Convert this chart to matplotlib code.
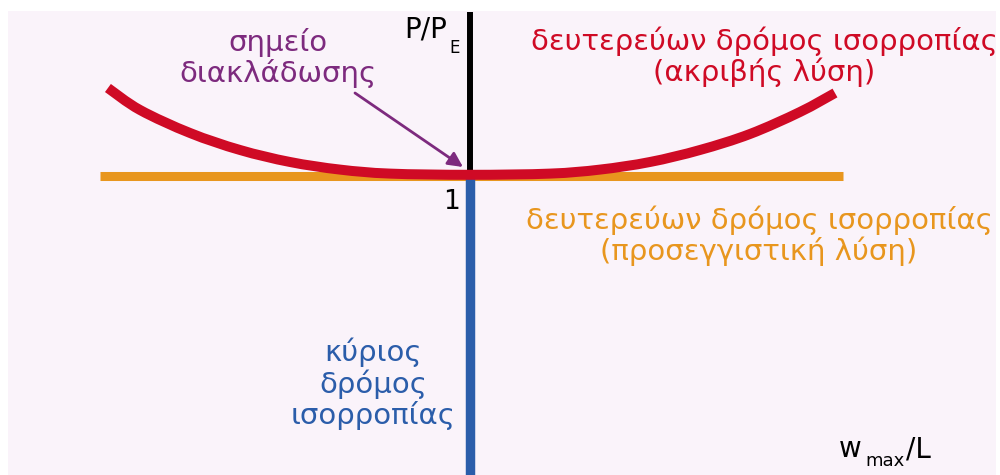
import matplotlib
matplotlib.use("Agg")
import matplotlib.pyplot as plt
import numpy as np
from matplotlib.patches import Rectangle, PathPatch
from matplotlib.path import Path

# ---- data (w_max/L, P/P_E) ----
w_exact = [-0.992, -0.904, -0.767, -0.630, -0.493, -0.356, -0.219, 0.0,
           0.219, 0.356, 0.493, 0.630, 0.767, 0.904, 1.000]
p_exact = [1.44, 1.33, 1.215, 1.13, 1.07, 1.032, 1.012, 1.006,
           1.012, 1.032, 1.07, 1.13, 1.21, 1.32, 1.415]
w_approx = [-1.014, 1.022]
p_approx = [1.0, 1.0]
w_primary = [0.0, 0.0]
p_primary = [-0.5, 1.0]
w_upper = [0.0, 0.0]
p_upper = [1.0, 1.82]

RED = "#CF0A25"
ORANGE = "#E8961E"
BLUE = "#2B5DAA"
PURPLE = "#7D2A7E"
BG = "#FAF3FA"

fig = plt.figure(figsize=(10, 4.75), dpi=100)
fig.patch.set_facecolor("white")

ax = fig.add_axes([0, 0, 1, 1])
ax.set_facecolor("none")
ax.set_xlim(-1.2877, 1.4521)
ax.set_ylim(-0.495, 1.88)
ax.axis("off")
ax.add_patch(Rectangle((8 / 1000, 0), 988 / 1000, (475 - 11) / 475,
                       transform=fig.transFigure, facecolor=BG,
                       edgecolor="none", zorder=0))

ax.plot(w_approx, p_approx, color=ORANGE, lw=6.5, solid_capstyle="butt", zorder=2)
ax.plot(w_primary, p_primary, color=BLUE, lw=6.8, solid_capstyle="butt", zorder=3)
ax.plot(w_upper, p_upper, color="black", lw=4.3, solid_capstyle="butt", zorder=3)


def smooth_path(xs, ys):
    """Bezier path passing through the given points (Catmull-Rom handles)."""
    pts = np.column_stack([xs, ys])
    ext = np.vstack([pts[0], pts, pts[-1]])
    verts = [pts[0]]
    codes = [Path.MOVETO]
    for i in range(1, len(ext) - 2):
        p0, p1, p2, p3 = ext[i - 1], ext[i], ext[i + 1], ext[i + 2]
        c1 = p1 + (p2 - p0) / 6
        c2 = p2 - (p3 - p1) / 6
        verts += [c1, c2, p2]
        codes += [Path.CURVE4] * 3
    return Path(verts, codes)


red_curve = PathPatch(smooth_path(w_exact, p_exact), fill=False, edgecolor=RED,
                      lw=7.2, capstyle="butt", joinstyle="round", zorder=4)
ax.add_patch(red_curve)


def fx(px):
    return px / 1000


def fy(py):
    return 1 - py / 475


FS = 21
common = dict(transform=fig.transFigure, family="DejaVu Sans")

fig.text(fx(764), fy(57), "δευτερεύων δρόμος ισορροπίας\n(ακριβής λύση)",
         color=RED, fontsize=FS, ha="center", va="center",
         multialignment="center", linespacing=1.05, **common)
fig.text(fx(759), fy(236), "δευτερεύων δρόμος ισορροπίας\n(προσεγγιστική λύση)",
         color=ORANGE, fontsize=FS, ha="center", va="center",
         multialignment="center", linespacing=1.05, **common)
fig.text(fx(373), fy(384), "κύριος\nδρόμος\nισορροπίας",
         color=BLUE, fontsize=FS, ha="center", va="center",
         multialignment="center", linespacing=1.1, **common)
fig.text(fx(278), fy(58), "σημείο\nδιακλάδωσης",
         color=PURPLE, fontsize=FS, ha="center", va="center",
         multialignment="center", linespacing=1.1, **common)

# axis labels
fig.text(fx(447), fy(37), "P/P", color="black", fontsize=20,
         ha="right", va="baseline", **common)
fig.text(fx(449), fy(53), "E", color="black", fontsize=12,
         ha="left", va="baseline", **common)
fig.text(fx(451), fy(202), "1", color="black", fontsize=19,
         ha="center", va="center", **common)
fig.text(fx(839), fy(457), "w", color="black", fontsize=20,
         ha="left", va="baseline", **common)
fig.text(fx(865), fy(466), "max", color="black", fontsize=13,
         ha="left", va="baseline", **common)
fig.text(fx(906), fy(457), "/L", color="black", fontsize=20,
         ha="left", va="baseline", **common)

# arrow to bifurcation point
ax.annotate("", xy=(fx(463), fy(167)), xycoords="figure fraction",
            xytext=(fx(355), fy(93)), textcoords="figure fraction",
            arrowprops=dict(arrowstyle="-|>", color=PURPLE, lw=2.0,
                            mutation_scale=22, shrinkA=0, shrinkB=0),
            zorder=6)

fig.savefig("out.png", dpi=100, facecolor=fig.get_facecolor())
